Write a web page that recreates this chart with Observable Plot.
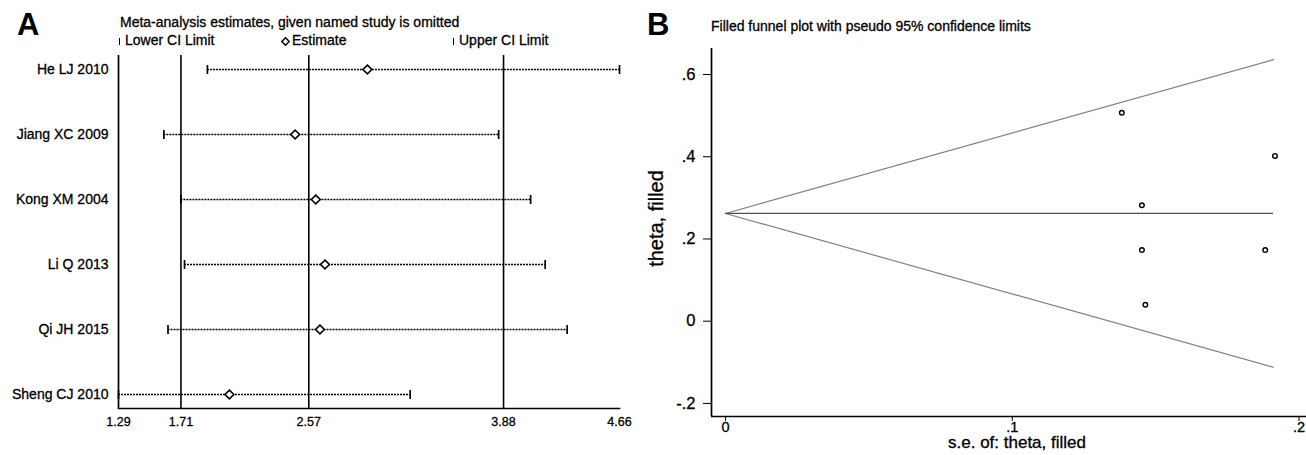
<!DOCTYPE html>
<html>
<head>
<meta charset="utf-8">
<script src="https://cdn.jsdelivr.net/npm/d3@7"></script>
<script src="https://cdn.jsdelivr.net/npm/@observablehq/plot@0.6"></script>
<style>
  html, body { margin: 0; padding: 0; background: #fff; }
  #wrap { position: relative; width: 1306px; height: 455px; overflow: hidden; font-family: "Liberation Sans", Arial, sans-serif; color: #000; }
  .abs { position: absolute; line-height: 1; white-space: nowrap; -webkit-text-stroke: 0.3px #000; }
  .big { -webkit-text-stroke: 0; }
  .panel { position: absolute; top: 0; }
  #wrap svg text { stroke: #000; stroke-width: 0.3px; }
  .bar { display: inline-block; width: 0; height: 7px; border-left: 1.6px solid #000; margin-right: 5px; vertical-align: 0px; }
  .dia { display: inline-block; vertical-align: -1px; margin-right: 2px; }
</style>
</head>
<body>
<div id="wrap">
  <div class="abs big" style="left:17px;top:9px;font-size:31px;font-weight:bold;">A</div>
  <div class="abs" style="left:120px;top:15px;font-size:14px;">Meta-analysis estimates, given named study is omitted</div>
  <div class="abs" style="left:119px;top:33px;font-size:14px;"><span class="bar"></span>Lower CI Limit</div>
  <div class="abs" style="left:281px;top:33px;font-size:14px;"><svg class="dia" width="9" height="9"><path d="M4.5 0.8 L8.2 4.5 L4.5 8.2 L0.8 4.5 Z" fill="#fff" stroke="#000" stroke-width="1.5"/></svg>Estimate</div>
  <div class="abs" style="left:453px;top:33px;font-size:14px;"><span class="bar"></span>Upper CI Limit</div>
  <div class="abs big" style="left:647px;top:9px;font-size:31px;font-weight:bold;">B</div>
  <div class="abs" style="left:711px;top:19px;font-size:14px;">Filled funnel plot with pseudo 95% confidence limits</div>
  <div id="panelA" class="panel" style="left:0px;"></div>
  <div id="panelB" class="panel" style="left:640px;"></div>
</div>
<script>
// ---------- Panel A: leave-one-out sensitivity analysis ----------
const studies   = ["He LJ 2010", "Jiang XC 2009", "Kong XM 2004", "Li Q 2013", "Qi JH 2015", "Sheng CJ 2010"];
const estimates = [2.964, 2.478, 2.617, 2.679, 2.645, 2.036];
const lowerCI   = [1.888, 1.595, 1.710, 1.734, 1.623, 1.290];
const upperCI   = [4.660, 3.847, 4.062, 4.160, 4.308, 3.252];
const overallLines = [1.71, 2.57, 3.88];          // overall lower CI, estimate, upper CI
const xTicksA   = [1.29, 1.71, 2.57, 3.88, 4.66];

// ---------- Panel B: filled funnel plot ----------
const seB      = [0.1382, 0.1916, 0.1452, 0.1452, 0.1464, 0.1882];
const thetaB   = [0.507, 0.402, 0.282, 0.173, 0.040, 0.173];
const pooledTheta = 0.262;
const funnelSe    = [0, 0.1911];
const funnelUpper = [0.262, 0.636];
const funnelLower = [0.262, -0.112];
const xTicksB = [0, 0.1, 0.2];
const yTicksB = [-0.2, 0, 0.2, 0.4, 0.6];

const FONT = '"Liberation Sans", Arial, sans-serif';

const rowsA = studies.map((s, i) => ({study: s, est: estimates[i], lo: lowerCI[i], hi: upperCI[i]}));
const capSymbol = { draw(ctx, size) { const r = Math.sqrt(size / Math.PI); ctx.moveTo(0, -r); ctx.lineTo(0, r); } };

const plotA = Plot.plot({
  width: 640, height: 455,
  marginLeft: 118, marginRight: 21, marginTop: 55, marginBottom: 47,
  style: {fontFamily: FONT, fontSize: "14px", color: "#000", background: "transparent", overflow: "visible"},
  x: {domain: [xTicksA[0], xTicksA[xTicksA.length - 1]]},
  y: {type: "point", domain: studies, padding: 0.182},
  marks: [
    Plot.ruleX([xTicksA[0]], {stroke: "#000", strokeWidth: 1.7}),
    Plot.ruleX(overallLines, {stroke: "#000", strokeWidth: 1.6}),
    Plot.frame({anchor: "bottom", stroke: "#000", strokeWidth: 1.7}),
    Plot.ruleY(rowsA, {y: "study", x1: "lo", x2: "hi", stroke: "#000", strokeWidth: 1.5, strokeDasharray: "2,1"}),
    Plot.dot(rowsA, {x: "lo", y: "study", symbol: capSymbol, r: 4.5, stroke: "#000", strokeWidth: 1.7}),
    Plot.dot(rowsA, {x: "hi", y: "study", symbol: capSymbol, r: 4.5, stroke: "#000", strokeWidth: 1.7}),
    Plot.dot(rowsA, {x: "est", y: "study", symbol: "diamond2", r: 4, stroke: "#000", fill: "#fff", strokeWidth: 1.6}),
    Plot.axisY({tickSize: 0, tickPadding: 10, label: null, fontSize: 14}),
    Plot.axisX({ticks: xTicksA, tickFormat: d => d.toFixed(2), tickSize: 0, tickPadding: 9, label: null, fontSize: 12.5})
  ]
});
document.getElementById("panelA").appendChild(plotA);

const fmtB = d => d === 0 ? "0" : String(+d.toFixed(3)).replace(/^(-?)0\./, "$1.");
const pts = seB.map((s, i) => ({se: s, theta: thetaB[i]}));
const upperLine = funnelSe.map((s, i) => ({se: s, v: funnelUpper[i]}));
const lowerLine = funnelSe.map((s, i) => ({se: s, v: funnelLower[i]}));
const xDomB = [-0.0049, 0.2026];
const yDomB = [-0.2318, 0.6632];

const plotB = Plot.plot({
  width: 666, height: 455,
  marginLeft: 71, marginRight: 0, marginTop: 48, marginBottom: 39,
  style: {fontFamily: FONT, fontSize: "15px", color: "#000", background: "transparent", overflow: "visible"},
  x: {domain: xDomB},
  y: {domain: yDomB},
  marks: [
    Plot.line(upperLine, {x: "se", y: "v", stroke: "#808080", strokeWidth: 1.2}),
    Plot.line(lowerLine, {x: "se", y: "v", stroke: "#808080", strokeWidth: 1.2}),
    Plot.ruleY([pooledTheta], {x1: funnelSe[0], x2: funnelSe[1], stroke: "#505050", strokeWidth: 1.3}),
    Plot.dot(pts, {x: "se", y: "theta", r: 2.3, stroke: "#000", fill: "#fff", strokeWidth: 1.4}),
    Plot.ruleX([xDomB[0]], {stroke: "#000", strokeWidth: 1.7}),
    Plot.ruleY([yDomB[0]], {stroke: "#000", strokeWidth: 1.7}),
    Plot.axisY({ticks: yTicksB, tickFormat: fmtB, tickSize: 8, tickPadding: 8, label: null, fontSize: 16.5}),
    Plot.axisX({ticks: xTicksB, tickFormat: fmtB, tickSize: 5, tickPadding: 0, label: null, fontSize: 14.5}),
    Plot.text(["theta, filled"], {frameAnchor: "left", rotate: -90, dx: -54.5, dy: -14, fontSize: 20, textAnchor: "middle"}),
    Plot.text(["s.e. of: theta, filled"], {frameAnchor: "bottom", dx: 8, dy: 31, fontSize: 17, textAnchor: "middle"})
  ]
});
document.getElementById("panelB").appendChild(plotB);
</script>
</body>
</html>
